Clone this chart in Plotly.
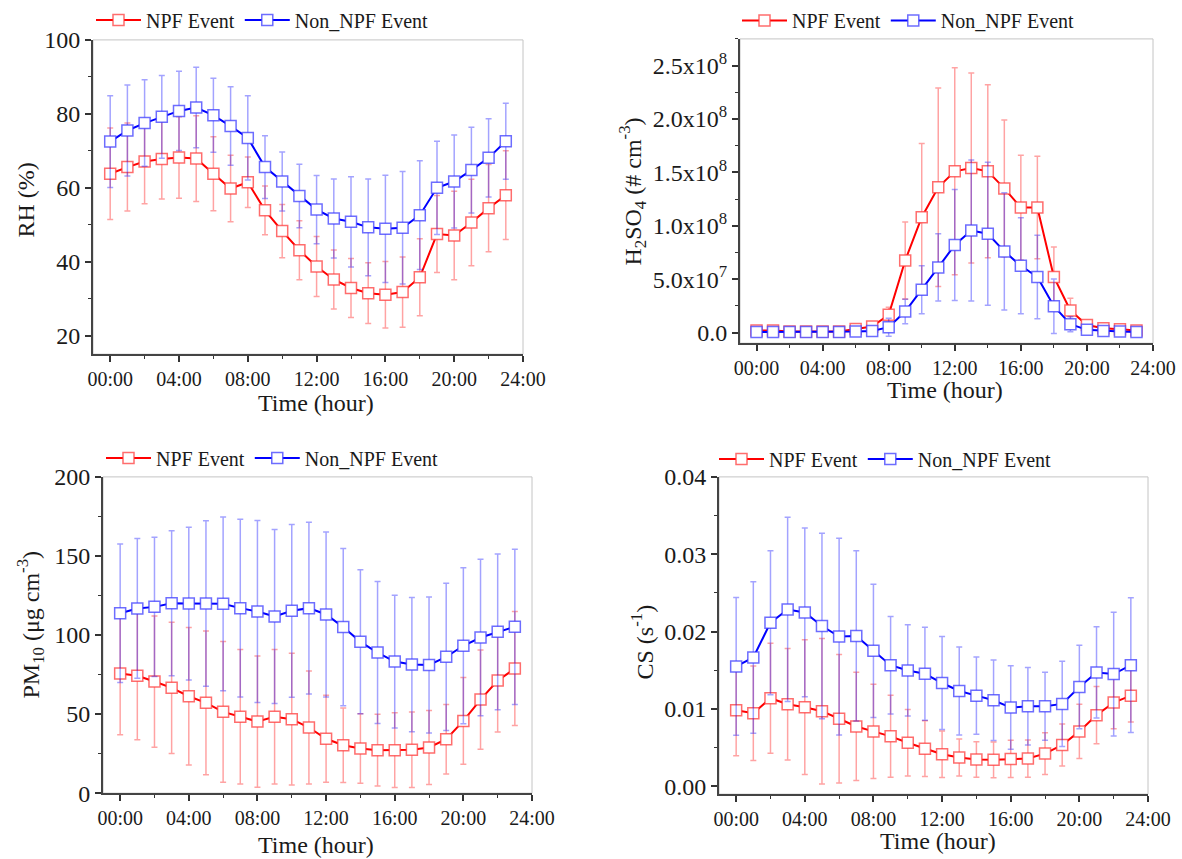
import plotly.graph_objects as go

hours = list(range(24))
x_tickvals = [0, 4, 8, 12, 16, 20, 24]
x_ticktext = ["00:00", "04:00", "08:00", "12:00", "16:00", "20:00", "24:00"]

# RH (%)
rh_npf = [63.8, 65.6, 67.1, 67.8, 68.2, 67.9, 63.8, 59.8, 61.5, 53.9, 48.3, 43.1,
          38.7, 35.2, 32.9, 31.5, 31.1, 31.8, 35.8, 47.5, 47.1, 50.6, 54.5, 58.0]
rh_npf_sd = [12.4, 11.9, 11.4, 10.8, 11.0, 11.6, 10.0, 9.0, 6.8, 6.6, 7.2, 8.0,
             8.1, 8.0, 8.0, 8.2, 9.0, 9.5, 10.4, 10.4, 12.0, 11.7, 11.8, 12.0]
rh_non = [72.5, 75.5, 77.5, 79.2, 80.8, 81.7, 79.6, 76.7, 73.5, 65.6, 61.7, 57.8,
          54.1, 51.7, 50.8, 49.3, 48.9, 49.2, 52.6, 60.0, 61.7, 64.8, 68.1, 72.6]
rh_non_sd = [12.4, 12.3, 11.7, 11.2, 10.7, 10.9, 10.0, 10.6, 11.4, 8.5, 8.0, 8.6,
             9.2, 10.7, 12.2, 13.1, 14.5, 15.2, 14.7, 12.6, 12.6, 11.6, 10.6, 10.3]

# H2SO4 (# cm-3)
h2so4_npf = [2e6, 2e6, 1e6, 1e6, 1e6, 1e6, 3.4e6, 5.6e6, 1.66e7, 6.75e7, 1.08e8, 1.36e8,
             1.51e8, 1.54e8, 1.51e8, 1.35e8, 1.17e8, 1.17e8, 5.2e7, 2.06e7, 7e6, 4e6, 3e6, 2e6]
h2so4_npf_sd = [1e6, 1e6, 5e5, 5e5, 5e5, 5e5, 2e6, 3e6, 7e6, 3.6e7, 6.9e7, 9.3e7,
                9.7e7, 8.9e7, 8.1e7, 6.4e7, 4.9e7, 4.8e7, 2.8e7, 1.15e7, 3e6, 2e6, 1.5e6, 1e6]
h2so4_non = [5e5, 5e5, 5e5, 5e5, 5e5, 5e5, 1e6, 1.5e6, 5e6, 1.97e7, 4.0e7, 6.1e7,
             8.2e7, 9.56e7, 9.25e7, 7.6e7, 6.25e7, 5.2e7, 2.47e7, 7.8e6, 2.5e6, 1.5e6, 1e6, 6e5]
h2so4_non_sd = [5e5, 5e5, 5e5, 5e5, 5e5, 5e5, 1e6, 2e6, 8.4e6, 1.15e7, 2.25e7, 3.15e7,
                5.2e7, 6.6e7, 6.7e7, 5.5e7, 4.5e7, 3.9e7, 2.55e7, 7e6, 3e6, 2e6, 1e6, 1e6]

# PM10 (ug cm-3)
pm10_npf = [75.7, 74.2, 70.6, 66.6, 61.3, 57.1, 51.4, 48.3, 45.3, 48.3, 46.8, 41.5,
            34.4, 30.3, 28.2, 27.2, 27.2, 27.4, 28.9, 34.1, 45.7, 59.2, 71.2, 78.8]
pm10_npf_sd = [38.8, 40.5, 41.5, 41.5, 43.5, 45.5, 44.5, 42.5, 41.5, 42.5, 41.7, 35.7,
               27.5, 23.6, 22.0, 22.7, 23.6, 23.9, 23.4, 22.0, 27.4, 31.4, 32.5, 36.0]
pm10_non = [113.8, 116.8, 117.8, 120.1, 119.9, 119.9, 119.7, 117.0, 114.9, 111.7, 115.3, 117.0,
            113.0, 105.0, 95.7, 88.9, 83.2, 81.3, 81.1, 86.2, 93.2, 98.4, 102.0, 105.2]
pm10_non_sd = [43.8, 44.2, 44.1, 45.8, 48.3, 52.3, 55.0, 56.2, 57.5, 55.0, 54.6, 54.3,
               52.2, 49.7, 45.5, 44.9, 42.0, 42.4, 43.0, 46.6, 49.3, 49.5, 49.3, 49.1]

# CS (s-1)
cs_npf = [0.00985, 0.00946, 0.0114, 0.01062, 0.01024, 0.00972, 0.00874, 0.00775, 0.00711, 0.00647,
          0.00565, 0.00488, 0.00415, 0.00373, 0.00347, 0.00343, 0.00355, 0.0036, 0.00424, 0.00535,
          0.00711, 0.00921, 0.01084, 0.01173]
cs_npf_sd = [0.0059, 0.0061, 0.0071, 0.0072, 0.0087, 0.0094, 0.0083, 0.0070, 0.0061, 0.0053,
             0.0043, 0.0036, 0.0030, 0.0024, 0.0023, 0.0023, 0.0024, 0.0024, 0.0027, 0.0027,
             0.0035, 0.0037, 0.0034, 0.0034]
cs_non = [0.0155, 0.01666, 0.02116, 0.02287, 0.02248, 0.02073, 0.01936, 0.01944, 0.01752, 0.01567,
          0.01499, 0.01456, 0.01336, 0.01233, 0.01173, 0.01113, 0.01019, 0.01036, 0.01036, 0.01066,
          0.01285, 0.01473, 0.01452, 0.01567]
cs_non_sd = [0.0089, 0.0098, 0.0093, 0.0119, 0.0109, 0.0120, 0.0127, 0.0110, 0.0086, 0.0063,
             0.0059, 0.0060, 0.0060, 0.0057, 0.0050, 0.0052, 0.0054, 0.0050, 0.0044, 0.0055,
             0.0054, 0.0059, 0.0080, 0.0087]

series_names = ["NPF Event", "Non_NPF Event"]

FONT = "Liberation Serif, Times New Roman, serif"
TXT = "#1a1a1a"
RED = "#ff0000"
BLUE = "#0000ff"
RED_ERR = "rgba(255,0,0,0.36)"
BLUE_ERR = "rgba(0,0,255,0.36)"
RED_MK = "rgba(255,60,60,0.75)"
BLUE_MK = "rgba(60,60,255,0.75)"

panels = [
    dict(npf=rh_npf, npf_sd=rh_npf_sd, non=rh_non, non_sd=rh_non_sd,
         xdom=[93/1182, 523/1182], ydom=[1-353/859, 1-38/859], yrange=[15, 100],
         ytickvals=[20, 40, 60, 80, 100], yticktext=["20", "40", "60", "80", "100"], yminor=10,
         ytitle="RH (%)", ytitle_pos=(26, 199), xtitle_pos=(316, 402),
         legend_pos=(91/1182, 1-18/859)),
    dict(npf=h2so4_npf, npf_sd=h2so4_npf_sd, non=h2so4_non, non_sd=h2so4_non_sd,
         xdom=[740/1182, 1153/1182], ydom=[1-342/859, 1-37/859], yrange=[-1e7, 2.75e8],
         ytickvals=[0, 5e7, 1e8, 1.5e8, 2e8, 2.5e8],
         yticktext=["0.0", "5.0x10<sup>7</sup>", "1.0x10<sup>8</sup>", "1.5x10<sup>8</sup>",
                    "2.0x10<sup>8</sup>", "2.5x10<sup>8</sup>"], yminor=2.5e7,
         ytitle="H<sub>2</sub>SO<sub>4</sub> (# cm<sup>-3</sup>)", ytitle_pos=(632, 190),
         xtitle_pos=(945, 389), legend_pos=(737/1182, 1-18.5/859)),
    dict(npf=pm10_npf, npf_sd=pm10_npf_sd, non=pm10_non, non_sd=pm10_non_sd,
         xdom=[103/1182, 532/1182], ydom=[1-793/859, 1-476/859], yrange=[0, 200],
         ytickvals=[0, 50, 100, 150, 200], yticktext=["0", "50", "100", "150", "200"], yminor=25,
         ytitle="PM<sub>10</sub> (μg cm<sup>-3</sup>)", ytitle_pos=(30, 624),
         xtitle_pos=(316, 845), legend_pos=(101/1182, 1-457/859)),
    dict(npf=cs_npf, npf_sd=cs_npf_sd, non=cs_non, non_sd=cs_non_sd,
         xdom=[719/1182, 1148/1182], ydom=[1-794/859, 1-476/859], yrange=[-0.001, 0.04],
         ytickvals=[0, 0.01, 0.02, 0.03, 0.04], yticktext=["0.00", "0.01", "0.02", "0.03", "0.04"],
         yminor=0.005,
         ytitle="CS (s<sup>-1</sup>)", ytitle_pos=(642, 642),
         xtitle_pos=(938, 841), legend_pos=(714/1182, 1-458/859)),
]

fig = go.Figure()
layout = dict(width=1182, height=859, margin=dict(l=0, r=0, t=0, b=0),
              paper_bgcolor="white", plot_bgcolor="white",
              font=dict(family=FONT, color=TXT), showlegend=True)
annotations = []
shapes = []

for i, p in enumerate(panels):
    n = i + 1
    xa = "x" if n == 1 else f"x{n}"
    ya = "y" if n == 1 else f"y{n}"
    lg = "legend" if n == 1 else f"legend{n}"
    for vals, sd, color, ecol, mcol, name in [
        (p["npf"], p["npf_sd"], RED, RED_ERR, RED_MK, series_names[0]),
        (p["non"], p["non_sd"], BLUE, BLUE_ERR, BLUE_MK, series_names[1]),
    ]:
        fig.add_trace(go.Scatter(
            x=hours, y=vals, name=name, mode="lines+markers",
            xaxis=xa, yaxis=ya, legend=lg,
            line=dict(color=color, width=2),
            marker=dict(symbol="square", size=11, color="white",
                        line=dict(color=mcol, width=1.5)),
            error_y=dict(type="data", array=sd, visible=True, color=ecol,
                         thickness=1.5, width=3),
        ))
    axkey_x = "xaxis" if n == 1 else f"xaxis{n}"
    axkey_y = "yaxis" if n == 1 else f"yaxis{n}"
    layout[axkey_x] = dict(
        domain=p["xdom"], anchor=ya, range=[-1, 24],
        tickvals=x_tickvals, ticktext=x_ticktext,
        ticks="outside", ticklen=6, tickwidth=1.5, tickcolor="#333",
        minor=dict(ticks="outside", ticklen=3, tickwidth=1.2, tickcolor="#333",
                   tick0=0, dtick=2, showgrid=False),
        showline=True, linecolor="#444", linewidth=2, showgrid=False, zeroline=False,
        tickfont=dict(family=FONT, size=20, color=TXT), automargin=False,
    )
    layout[axkey_y] = dict(
        domain=p["ydom"], anchor=xa, range=p["yrange"],
        tickvals=p["ytickvals"], ticktext=p["yticktext"],
        ticks="outside", ticklen=6, tickwidth=1.5, tickcolor="#333",
        minor=dict(ticks="outside", ticklen=3, tickwidth=1.2, tickcolor="#333",
                   tick0=0, dtick=p["yminor"], showgrid=False),
        showline=True, linecolor="#444", linewidth=2, showgrid=False, zeroline=False,
        tickfont=dict(family=FONT, size=24, color=TXT), automargin=False,
    )
    layout[lg] = dict(
        orientation="h", x=p["legend_pos"][0], y=p["legend_pos"][1],
        xanchor="left", yanchor="middle", bgcolor="rgba(0,0,0,0)",
        font=dict(family=FONT, size=20, color=TXT), itemwidth=45,
        tracegroupgap=0,
    )
    shapes.append(dict(type="rect", xref=f"{xa} domain", yref=f"{ya} domain",
                       x0=0, x1=1, y0=0, y1=1, layer="below",
                       line=dict(color="#c4c4c4", width=1)))
    annotations.append(dict(text=p["ytitle"], xref="paper", yref="paper",
                            x=p["ytitle_pos"][0]/1182, y=1-p["ytitle_pos"][1]/859,
                            xanchor="center", yanchor="middle", textangle=-90,
                            showarrow=False, font=dict(family=FONT, size=24, color=TXT)))
    annotations.append(dict(text="Time (hour)", xref="paper", yref="paper",
                            x=p["xtitle_pos"][0]/1182, y=1-p["xtitle_pos"][1]/859,
                            xanchor="center", yanchor="middle",
                            showarrow=False, font=dict(family=FONT, size=24, color=TXT)))

layout["annotations"] = annotations
layout["shapes"] = shapes
fig.update_layout(**layout)
fig.write_html("out.html")
